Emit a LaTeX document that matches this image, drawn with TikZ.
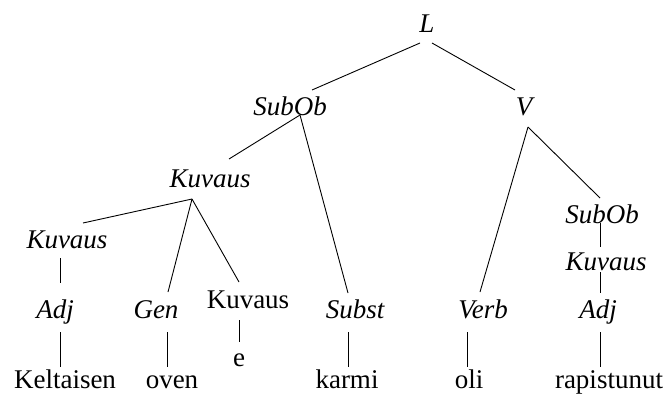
\documentclass[tikz,border=0pt]{standalone}
\usepackage{fontspec}
\setmainfont{Liberation Serif}[ItalicFont={Liberation Serif Italic},BoldFont={Liberation Serif Bold}]
\begin{document}
\begin{tikzpicture}[x=1pt,y=-1pt,
  lbl/.style={anchor=base,inner sep=0pt,font=\fontsize{27}{30}\selectfont\itshape},
  wrd/.style={anchor=base,inner sep=0pt,font=\fontsize{27}{30}\selectfont},
  edge/.style={line width=0.9pt}]
\useasboundingbox (0,0) rectangle (668,394);
% nodes
\node[lbl] (L) at (427,32) {L};
\node[lbl] (SubOb) at (290,115) {SubOb};
\node[lbl] (V) at (524,115) {V};
\node[lbl] (K1) at (210,187) {Kuvaus};
\node[lbl] (K2) at (67,248) {Kuvaus};
\node[lbl] (Adj1) at (55,318) {Adj};
\node[lbl] (Gen) at (156,318) {Gen};
\node[wrd] (K3) at (248,308) {Kuvaus};
\node[wrd] (e) at (239,366) {e};
\node[lbl] (Subst) at (355,318) {Subst};
\node[lbl] (Verb) at (483,318) {Verb};
\node[lbl] (SubOb2) at (602,223) {SubOb};
\node[lbl] (K4) at (606,270) {Kuvaus};
\node[lbl] (Adj2) at (598,318) {Adj};
\node[wrd] (w1) at (65,388) {Keltaisen};
\node[wrd] (w2) at (172,388) {oven};
\node[wrd] (w3) at (347,388) {karmi};
\node[wrd] (w4) at (469,388) {oli};
\node[wrd] (w5) at (609,388) {rapistunut};
% edges
\draw[edge] ([shift={(-7,11)}]L.base) -- ([shift={(22,-25)}]SubOb.base);
\draw[edge] ([shift={(5,11)}]L.base) -- ([shift={(-9,-25)}]V.base);
\draw[edge] ([shift={(10,0)}]SubOb.base) -- ([shift={(19,-28)}]K1.base);
\draw[edge] ([shift={(10,0)}]SubOb.base) -- ([shift={(-7,-25)}]Subst.base);
\draw[edge] ([shift={(4,12)}]V.base) -- ([shift={(-3,-26)}]Verb.base);
\draw[edge] ([shift={(4,12)}]V.base) -- ([shift={(-2,-25)}]SubOb2.base);
\draw[edge] ([shift={(-18,12)}]K1.base) -- ([shift={(16,-25)}]K2.base);
\draw[edge] ([shift={(-18,12)}]K1.base) -- ([shift={(12,-26)}]Gen.base);
\draw[edge] ([shift={(-18,12)}]K1.base) -- ([shift={(-9,-26)}]K3.base);
\draw[edge] ([shift={(-7,10)}]K2.base) -- ([shift={(5,-35)}]Adj1.base);
\draw[edge] ([shift={(5,14)}]Adj1.base) -- ([shift={(-5,-21)}]w1.base);
\draw[edge] ([shift={(11,14)}]Gen.base) -- ([shift={(-5,-21)}]w2.base);
\draw[edge] ([shift={(-9,12)}]K3.base) -- ([shift={(0,-24)}]e.base);
\draw[edge] ([shift={(-7,14)}]Subst.base) -- ([shift={(1,-21)}]w3.base);
\draw[edge] ([shift={(-16,14)}]Verb.base) -- ([shift={(-2,-21)}]w4.base);
\draw[edge] ([shift={(-2,0)}]SubOb2.base) -- ([shift={(-6,-23)}]K4.base);
\draw[edge] ([shift={(-6,2)}]K4.base) -- ([shift={(2,-25)}]Adj2.base);
\draw[edge] ([shift={(2,14)}]Adj2.base) -- ([shift={(-9,-21)}]w5.base);
\end{tikzpicture}
\end{document}
